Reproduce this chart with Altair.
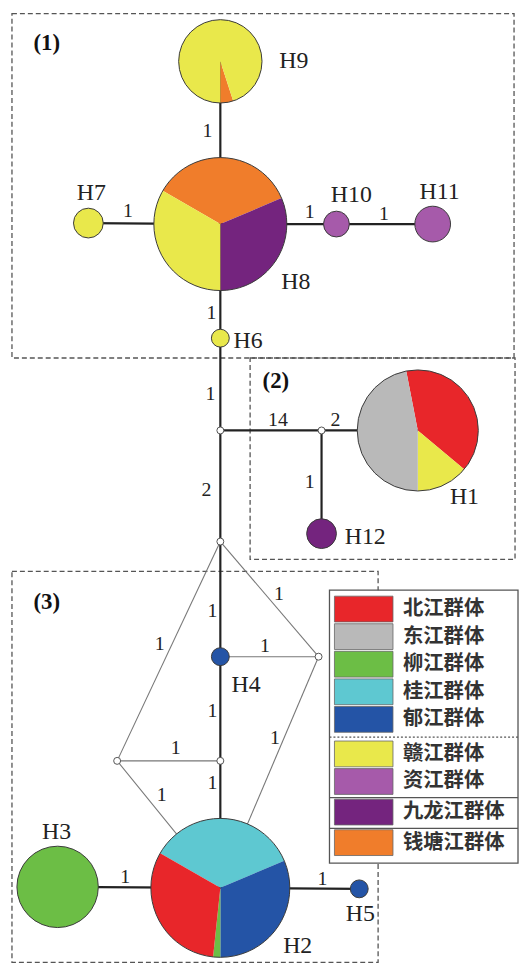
import altair as alt
import pandas as pd
import numpy as np

# ---------------- data ----------------
GROUPS = ["北江群体", "东江群体", "柳江群体", "桂江群体", "郁江群体",
          "赣江群体", "资江群体", "九龙江群体", "钱塘江群体"]
COLORS = ["#E8262A", "#B9B9B9", "#6CBE45", "#5EC8D1", "#2454A6",
          "#E9E84B", "#A65AAA", "#74247E", "#F07D2B"]

NODE_NAMES = ["H1", "H2", "H3", "H4", "H5", "H6", "H7", "H8", "H9", "H10", "H11", "H12"]
NODE_X = [421, 222, 58, 222, 362, 222, 89, 222, 222, 339, 436, 324]
NODE_Y = [430, 891, 890, 658, 892, 337, 221, 222, 58, 222, 222, 534]
NODE_R = [61, 70, 41, 9, 9, 9, 15, 67, 42, 13, 18, 15]
NODE_START = [349, 300, 0, 0, 0, 0, 0, 300, 162, 0, 0, 0]  # degrees, clockwise from top
NODE_GROUPS = [
    ["北江群体", "赣江群体", "东江群体"],
    ["桂江群体", "郁江群体", "柳江群体", "北江群体"],
    ["柳江群体"], ["郁江群体"], ["郁江群体"], ["赣江群体"], ["赣江群体"],
    ["钱塘江群体", "九龙江群体", "赣江群体"],
    ["钱塘江群体", "赣江群体"],
    ["资江群体"], ["资江群体"], ["九龙江群体"],
]
NODE_SHARES = [
    [141, 50, 169],
    [127, 113, 6, 114],
    [1], [1], [1], [1], [1],
    [127, 113, 120],
    [18, 342],
    [1], [1], [1],
]
LABEL_X = [468, 300, 57, 248, 363, 250, 92, 298, 296, 354, 443, 368]
LABEL_Y = [497, 950, 835, 687, 917, 340, 191, 280, 58, 193, 190, 537]

JUNC_NAMES = ["J1", "J2", "J3", "J4", "J5", "J6"]
JUNC_X = [222, 324, 222, 321, 222, 118]
JUNC_Y = [430, 430, 542, 658, 763, 763]

MAIN_EDGES = [("H9", "H8"), ("H7", "H8"), ("H8", "H10"), ("H10", "H11"), ("H8", "H6"),
              ("H6", "J1"), ("J1", "J2"), ("J2", "H1"), ("J2", "H12"), ("J1", "J3"),
              ("J3", "H4"), ("H4", "J5"), ("J5", "H2"), ("H3", "H2"), ("H2", "H5")]
THIN_EDGES = [("J3", "J6"), ("J3", "J4"), ("H4", "J4"), ("J6", "J5"), ("J6", "H2"), ("J4", "H2")]

STEP_TEXT = ["1", "1", "1", "1", "1", "1", "14", "2", "1", "2", "1", "1", "1", "1",
             "1", "1", "1", "1", "1", "1", "1"]
STEP_X = [209, 129, 312, 387, 213, 212, 280, 338, 312, 208, 214, 281, 161, 267,
          214, 177, 277, 163, 214, 126, 325]
STEP_Y = [128, 209, 210, 212, 312, 393, 420, 420, 482, 490, 612, 595, 645, 647,
          713, 750, 740, 797, 785, 880, 882]

BOX_TEXT = ["(1)", "(2)", "(3)"]
BOX_LABEL_X = [47, 278, 47]
BOX_LABEL_Y = [40, 380, 603]
BOX_X1 = [12, 252, 12]
BOX_X2 = [518, 519, 381]
BOX_Y1 = [10, 357, 572]
BOX_Y2 = [357, 560, 966]

SERIF = "'Liberation Serif', 'Times New Roman', Times, 'DejaVu Serif', serif"

# ---------------- derived tables ----------------
pos = {n: (x, y) for n, x, y in zip(NODE_NAMES, NODE_X, NODE_Y)}
pos.update({n: (x, y) for n, x, y in zip(JUNC_NAMES, JUNC_X, JUNC_Y)})

slices = []
for name, x, y, r, st, gs, ss in zip(NODE_NAMES, NODE_X, NODE_Y, NODE_R,
                                      NODE_START, NODE_GROUPS, NODE_SHARES):
    tot = float(sum(ss))
    cum = 0.0
    for g, s in zip(gs, ss):
        t0 = np.deg2rad(st) + 2 * np.pi * cum / tot
        cum += s
        t1 = np.deg2rad(st) + 2 * np.pi * cum / tot
        slices.append(dict(node=name, x=x, y=y, r=r, group=g, t0=t0, t1=t1))
slice_df = pd.DataFrame(slices)

outline_df = pd.DataFrame(dict(node=NODE_NAMES, x=NODE_X, y=NODE_Y, r=NODE_R,
                               t0=0.0, t1=2 * np.pi))
junc_df = pd.DataFrame(dict(node=JUNC_NAMES, x=JUNC_X, y=JUNC_Y, r=3.5,
                            t0=0.0, t1=2 * np.pi))

def edge_df(edges):
    return pd.DataFrame([dict(x=pos[a][0], y=pos[a][1], x2=pos[b][0], y2=pos[b][1])
                         for a, b in edges])

main_df = edge_df(MAIN_EDGES)
thin_df = edge_df(THIN_EDGES)
lab_df = pd.DataFrame(dict(text=NODE_NAMES, x=LABEL_X, y=LABEL_Y))
step_df = pd.DataFrame(dict(text=STEP_TEXT, x=STEP_X, y=STEP_Y))
box_df = pd.DataFrame(dict(x=BOX_X1, x2=BOX_X2, y=BOX_Y1, y2=BOX_Y2))
boxlab_df = pd.DataFrame(dict(text=BOX_TEXT, x=BOX_LABEL_X, y=BOX_LABEL_Y))

# legend layout
LEG_SECTION_OFFSET = [0, 0, 0, 0, 0, 7, 7, 10, 13]
leg_top = [597 + i * 27.8 + off for i, off in enumerate(LEG_SECTION_OFFSET)]
leg_df = pd.DataFrame(dict(group=GROUPS, y=leg_top,
                           y2=[t + 26 for t in leg_top],
                           ym=[t + 13 for t in leg_top],
                           x=337, x2=396, tx=406))
leg_frame = pd.DataFrame(dict(x=[332], x2=[522], y=[591], y2=[866]))
leg_div = pd.DataFrame(dict(x=[332, 332, 332], x2=[522, 522, 522],
                            y=[739, 800, 831], dash=["d", "s", "s"]))

# ---------------- scales ----------------
xs = alt.Scale(domain=[8, 523], nice=False, zero=False)
ys = alt.Scale(domain=[8, 968], nice=False, zero=False, reverse=True)

def X(f):
    return alt.X(f, type="quantitative", scale=xs, axis=None)

def Y(f):
    return alt.Y(f, type="quantitative", scale=ys, axis=None)

color = alt.Color("group:N", scale=alt.Scale(domain=GROUPS, range=COLORS), legend=None)

boxes = alt.Chart(box_df).mark_rect(fillOpacity=0, stroke="#555555", strokeWidth=1.3,
                                    strokeDash=[5, 3]).encode(
    x=X("x"), x2="x2", y=Y("y"), y2="y2")

thin = alt.Chart(thin_df).mark_rule(color="#777777", strokeWidth=1.1).encode(
    x=X("x"), x2="x2", y=Y("y"), y2="y2")
main = alt.Chart(main_df).mark_rule(color="#222222", strokeWidth=2.2).encode(
    x=X("x"), x2="x2", y=Y("y"), y2="y2")

pies = alt.Chart(slice_df).mark_arc(strokeWidth=0).encode(
    x=X("x"), y=Y("y"),
    theta=alt.Theta("t0:Q", scale=None), theta2=alt.Theta2("t1"),
    radius=alt.Radius("r:Q", scale=None), color=color)

outlines = alt.Chart(outline_df).mark_arc(fillOpacity=0, stroke="#3a3a3a",
                                          strokeWidth=1.0).encode(
    x=X("x"), y=Y("y"),
    theta=alt.Theta("t0:Q", scale=None), theta2=alt.Theta2("t1"),
    radius=alt.Radius("r:Q", scale=None))

juncs = alt.Chart(junc_df).mark_arc(fill="white", stroke="#555555", strokeWidth=1.0).encode(
    x=X("x"), y=Y("y"),
    theta=alt.Theta("t0:Q", scale=None), theta2=alt.Theta2("t1"),
    radius=alt.Radius("r:Q", scale=None))

labels = alt.Chart(lab_df).mark_text(font=SERIF, fontSize=24, color="#222222",
                                     align="center", baseline="middle").encode(
    x=X("x"), y=Y("y"), text="text:N")

steps = alt.Chart(step_df).mark_text(font=SERIF, fontSize=20, color="#222222",
                                     align="center", baseline="middle").encode(
    x=X("x"), y=Y("y"), text="text:N")

boxlabs = alt.Chart(boxlab_df).mark_text(font=SERIF, fontSize=23,
                                         fontWeight="bold", color="#111111",
                                         align="center", baseline="middle").encode(
    x=X("x"), y=Y("y"), text="text:N")

legframe = alt.Chart(leg_frame).mark_rect(fill="white", stroke="#555555",
                                          strokeWidth=1.3).encode(
    x=X("x"), x2="x2", y=Y("y"), y2="y2")
legdiv_d = alt.Chart(leg_div[leg_div.dash == "d"]).mark_rule(
    color="#555555", strokeWidth=1.2, strokeDash=[2, 2]).encode(
    x=X("x"), x2="x2", y=Y("y"))
legdiv_s = alt.Chart(leg_div[leg_div.dash == "s"]).mark_rule(
    color="#555555", strokeWidth=1.2).encode(
    x=X("x"), x2="x2", y=Y("y"))
legsw = alt.Chart(leg_df).mark_rect(stroke="#666666", strokeWidth=0.8).encode(
    x=X("x"), x2="x2", y=Y("y"), y2="y2", color=color)
legtxt = alt.Chart(leg_df).mark_text(font="Noto Sans CJK SC", fontSize=20.5,
                                     fontWeight="bold", color="#333333",
                                     align="left", baseline="middle").encode(
    x=X("tx"), y=Y("ym"), text="group:N")

chart = alt.layer(
    boxes, thin, main, pies, outlines, juncs, labels, steps, boxlabs,
    legframe, legdiv_d, legdiv_s, legsw, legtxt
).properties(
    width=515, height=960, padding=0, background="white",
    autosize=alt.AutoSizeParams(type="none")
).configure_view(stroke=None)

chart.save("out.html", embed_options={"renderer": "svg", "actions": False})
